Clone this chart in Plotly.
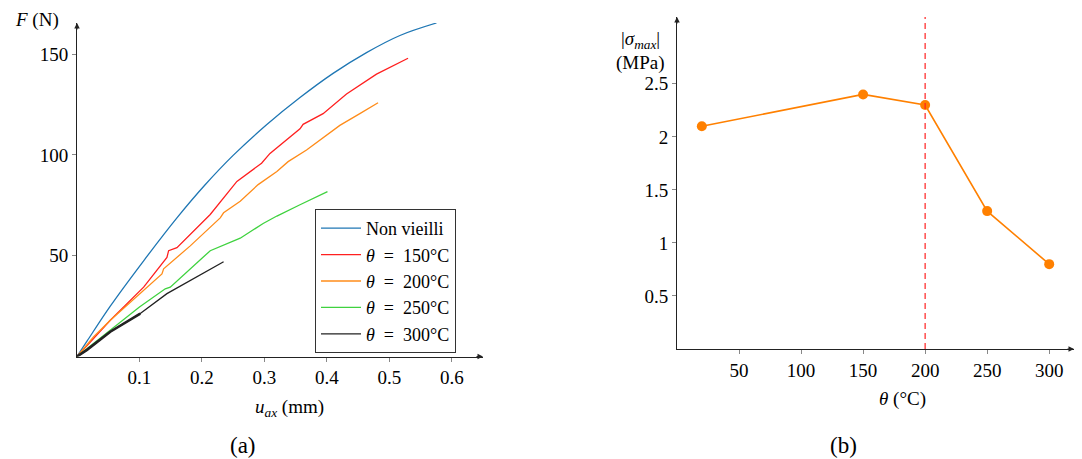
import plotly.graph_objects as go

# ---------------- data ----------------
# (a) force-displacement curves
u_non = [0, 0.016, 0.0533, 0.1067, 0.16, 0.2048, 0.25, 0.3035, 0.357, 0.41, 0.4635, 0.517, 0.5755]
F_non = [0, 7.6, 25, 47.5, 68.8, 85.1, 99.8, 115, 128.5, 140.5, 150.8, 159.3, 165.5]

u_150 = [0, 0.032, 0.0533, 0.1067, 0.144, 0.1467, 0.16, 0.2133, 0.256, 0.2955, 0.309, 0.357, 0.362, 0.394, 0.4315, 0.4795, 0.53]
F_150 = [0, 10.7, 18, 34.4, 49.2, 52.5, 54, 70.5, 86.9, 95.9, 100.8, 113, 115.2, 120.5, 130.3, 140.1, 148]

u_200 = [0, 0.0267, 0.0533, 0.1067, 0.136, 0.1387, 0.1813, 0.2293, 0.2347, 0.2613, 0.29, 0.32, 0.338, 0.3675, 0.4208, 0.4528, 0.482]
F_200 = [0, 9.8, 18, 32.8, 41, 43.5, 54.9, 68.8, 71.3, 77, 85.3, 91.8, 96.7, 102.5, 114.7, 120.5, 125.9]

u_250 = [0, 0.0533, 0.1, 0.1413, 0.1493, 0.2133, 0.2533, 0.2613, 0.298, 0.32, 0.357, 0.401]
F_250 = [0, 13.1, 24.6, 33.6, 34.4, 52.5, 57.9, 58.7, 66, 69.7, 75.3, 81.8]

u_300 = [0, 0.016, 0.0533, 0.1013, 0.144, 0.1765, 0.2347]
F_300 = [0, 3.3, 12.3, 21.3, 31.2, 36.9, 47]
n_thick_300 = 4  # the first points of the 300°C curve are drawn as a thicker bundle

series_names = ["Non vieilli", "<i>θ</i>\u2002=\u2002150°C", "<i>θ</i>\u2002=\u2002200°C",
                "<i>θ</i>\u2002=\u2002250°C", "<i>θ</i>\u2002=\u2002300°C"]
series_colors = ["#1f77b4", "#ff2020", "#ff8c1a", "#3fd23f", "#222222"]

x_ticks_a = [0.1, 0.2, 0.3, 0.4, 0.5, 0.6]
y_ticks_a = [50, 100, 150]

# (b) max stress vs temperature
theta = [20, 150, 200, 250, 300]
sigma = [2.1, 2.4, 2.3, 1.3, 0.8]
theta_limit = 200
x_ticks_b = [50, 100, 150, 200, 250, 300]
y_ticks_b = [0.5, 1, 1.5, 2, 2.5]

# ---------------- layout helpers ----------------
W, H = 1082, 459
OFF = 8  # page body margin offset
def px(x):
    return (x - OFF) / W
def py(y):
    return 1 - (y - OFF) / H

FONT = "Liberation Serif, Times New Roman, DejaVu Serif, serif"
fig = go.Figure()

curves = [(u_non, F_non), (u_150, F_150), (u_200, F_200), (u_250, F_250), (u_300, F_300)]
for i, ((u, F), name, col) in enumerate(zip(curves, series_names, series_colors)):
    line = dict(color=col, width=1.3)
    if i == 0:
        line.update(shape="spline", smoothing=1.0)
    fig.add_trace(go.Scatter(x=u, y=F, mode="lines", name=name, line=line,
                             xaxis="x", yaxis="y"))

fig.add_trace(go.Scatter(x=u_300[:n_thick_300], y=F_300[:n_thick_300], mode="lines",
                         showlegend=False, hoverinfo="skip",
                         line=dict(color=series_colors[4], width=2.6),
                         xaxis="x", yaxis="y"))

fig.add_trace(go.Scatter(x=theta, y=sigma, mode="lines+markers", showlegend=False,
                         line=dict(color="#ff8000", width=1.6),
                         marker=dict(color="#ff8000", size=10),
                         xaxis="x2", yaxis="y2"))

xmax_a, ymax_a = 0.65, 165.5
xmax_b, ymax_b = 320, 3.13
fig.add_trace(go.Scatter(x=[theta_limit, theta_limit], y=[0, ymax_b], mode="lines",
                         showlegend=False, line=dict(color="#ff2020", width=1.2, dash="6px,4px"),
                         xaxis="x2", yaxis="y2"))

# axis arrowheads (short arrows ending at the axis ends)
for xr, yr, xm, ym in [("x", "y", xmax_a, ymax_a), ("x2", "y2", xmax_b, ymax_b)]:
    fig.add_annotation(x=xm, y=0, xref=xr, yref=yr, ax=-8, ay=0, text="",
                       showarrow=True, arrowhead=2, arrowsize=1, arrowwidth=1.1,
                       arrowcolor="#222222")
    fig.add_annotation(x=0, y=ym, xref=xr, yref=yr, ax=0, ay=8, text="",
                       showarrow=True, arrowhead=2, arrowsize=1, arrowwidth=1.1,
                       arrowcolor="#222222")

axis_common = dict(showgrid=False, zeroline=False, showline=True, linecolor="#222222",
                   linewidth=1, automargin=False,
                   ticks="outside", ticklen=4, tickcolor="#888888",
                   tickfont=dict(family=FONT, size=19, color="black"))

fig.update_layout(
    width=W, height=H,
    margin=dict(l=0, r=0, t=0, b=0),
    paper_bgcolor="white", plot_bgcolor="white",
    xaxis=dict(domain=[px(77), px(483)], range=[0, xmax_a], tickvals=x_ticks_a,
               ticktext=[f"{v:g}" for v in x_ticks_a], anchor="y", **axis_common),
    yaxis=dict(domain=[py(356.5), py(23)], range=[0, ymax_a], tickvals=y_ticks_a,
               anchor="x", **axis_common),
    xaxis2=dict(domain=[px(677), px(1074)], range=[0, xmax_b], tickvals=x_ticks_b,
                anchor="y2", **axis_common),
    yaxis2=dict(domain=[py(349), py(17)], range=[0, ymax_b], tickvals=y_ticks_b,
                ticktext=[f"{v:g}" for v in y_ticks_b], anchor="x2", **axis_common),
    legend=dict(x=px(315), y=py(209), xanchor="left", yanchor="top",
                bordercolor="#333333", borderwidth=1, bgcolor="white",
                font=dict(family=FONT, size=18, color="black"),
                tracegroupgap=0, itemwidth=40),
    showlegend=True,
)

labels = [
    ("<i>F</i> (N)", 37, 20, 19),
    ("<i>u<sub>ax</sub></i> (mm)", 289, 408, 19),
    ("(a)", 243, 445, 23),
    ("|<i>σ<sub>max</sub></i>|", 640, 40, 19),
    ("(MPa)", 640, 63, 19),
    ("<i>θ</i> (°C)", 902, 399, 19),
    ("(b)", 843, 445, 23),
]
for t, x, y, s in labels:
    fig.add_annotation(text=t, x=px(x), y=py(y), xref="paper", yref="paper",
                       showarrow=False, xanchor="center", yanchor="middle",
                       font=dict(family=FONT, size=s, color="black"))

fig.write_html("out.html")
